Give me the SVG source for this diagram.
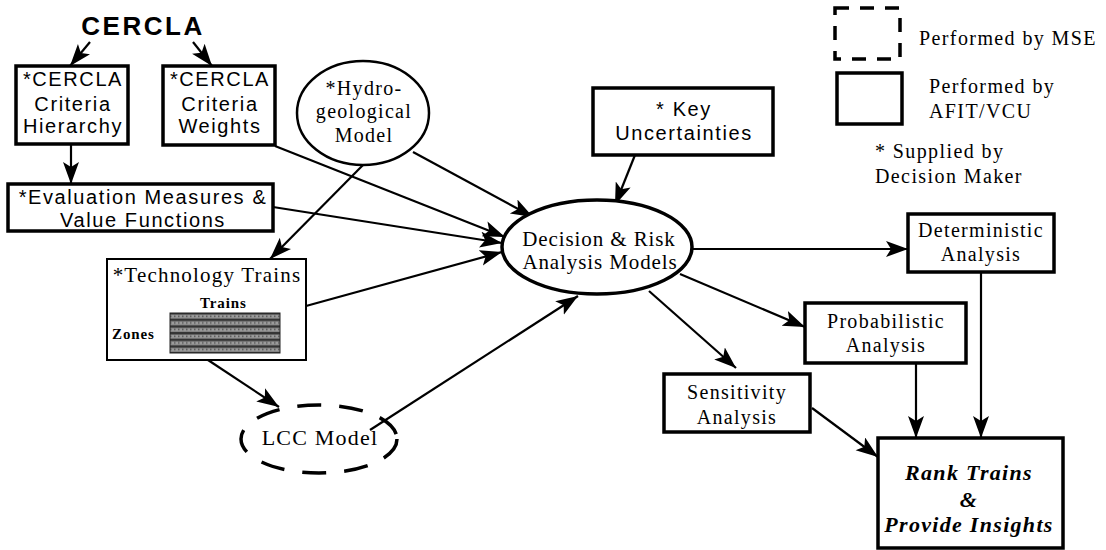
<svg xmlns="http://www.w3.org/2000/svg" width="1106" height="550" viewBox="0 0 1106 550">
<style>
.box{fill:#fff;stroke:#000;stroke-width:3.5}
.thin{fill:#fff;stroke:#000;stroke-width:2}
.ell{fill:#fff;stroke:#000;stroke-width:2.5}
.dash{fill:none;stroke:#000;stroke-width:3.5;stroke-dasharray:24,18}
.ln{stroke:#000;stroke-width:2.2;fill:none;marker-end:url(#ah)}
.sans{font-family:"Liberation Sans",Arial,sans-serif;font-size:20px;letter-spacing:1.6px;text-anchor:middle;fill:#000}
.serif{font-family:"Liberation Serif","Times New Roman",serif;font-size:20px;letter-spacing:1.3px;text-anchor:middle;fill:#000}
.leg{font-family:"Liberation Serif","Times New Roman",serif;font-size:20px;letter-spacing:1.4px;fill:#000}
.small{font-family:"Liberation Serif","Times New Roman",serif;font-size:15px;font-weight:bold;letter-spacing:0.9px;fill:#000}
.rank{font-family:"Liberation Serif","Times New Roman",serif;font-size:22px;font-weight:bold;font-style:italic;letter-spacing:1.3px;text-anchor:middle;fill:#000}
</style>
<defs>
<marker id="ah" markerUnits="userSpaceOnUse" markerWidth="24" markerHeight="18" refX="22" refY="8" orient="auto">
<path d="M0,0 L22,8 L0,16 L5,8 z" fill="#000"/>
</marker>
<pattern id="hatch" patternUnits="userSpaceOnUse" width="4" height="6.67" x="170" y="313">
<rect width="4" height="6.67" fill="#333"/>
<rect y="1.5" width="4" height="4" fill="#9a9a9a"/>
<rect x="0" y="2.5" width="1.5" height="1.5" fill="#555"/>
</pattern>
</defs>

<g id="connectors">
<line class="ln" x1="90" y1="42" x2="70" y2="66"/>
<line class="ln" x1="193" y1="42" x2="212" y2="66"/>
<line class="ln" x1="71" y1="144" x2="71" y2="184"/>
<line class="ln" x1="363" y1="165" x2="270" y2="259"/>
<line class="ln" x1="413" y1="152" x2="533" y2="217"/>
<line class="ln" x1="275" y1="146" x2="505" y2="237"/>
<line class="ln" x1="273" y1="207" x2="502" y2="243"/>
<line class="ln" x1="306" y1="306" x2="502" y2="252"/>
<line class="ln" x1="635" y1="155" x2="615" y2="205"/>
<line class="ln" x1="208" y1="360" x2="279" y2="407"/>
<line class="ln" x1="370" y1="430" x2="578" y2="296"/>
<line class="ln" x1="693" y1="249" x2="908" y2="249"/>
<line class="ln" x1="680" y1="274" x2="805" y2="327"/>
<line class="ln" x1="649" y1="291" x2="736" y2="368"/>
<line class="ln" x1="812" y1="408" x2="878" y2="457"/>
<line class="ln" x1="916" y1="363" x2="916" y2="438"/>
<line class="ln" x1="981" y1="272" x2="981" y2="438"/>
</g>

<g id="cercla">
<text x="143" y="35" style="font-family:'Liberation Sans',Arial,sans-serif;font-size:26px;font-weight:bold;letter-spacing:2.5px;text-anchor:middle">CERCLA</text>
</g>

<g id="hierarchy">
<rect class="box" x="16" y="66" width="112" height="78"/>
<text class="sans" x="73" y="86">*CERCLA</text>
<text class="sans" x="73" y="111">Criteria</text>
<text class="sans" x="73" y="133">Hierarchy</text>
</g>

<g id="weights">
<rect class="box" x="163" y="66" width="112" height="79"/>
<text class="sans" x="220" y="86">*CERCLA</text>
<text class="sans" x="220" y="111">Criteria</text>
<text class="sans" x="220" y="133">Weights</text>
</g>

<g id="evaluation">
<rect class="box" x="8" y="184" width="265" height="47"/>
<text class="sans" x="143" y="204">*Evaluation Measures &amp;</text>
<text class="sans" x="143" y="227">Value Functions</text>
</g>

<g id="hydro">
<ellipse class="ell" cx="363" cy="113" rx="66" ry="52"/>
<text class="serif" x="364" y="95">*Hydro-</text>
<text class="serif" x="364" y="118">geological</text>
<text class="serif" x="364" y="142">Model</text>
</g>

<g id="technology">
<rect class="thin" x="107" y="259" width="199" height="101"/>
<text class="serif" x="207" y="282" style="font-size:21px;letter-spacing:1.2px">*Technology Trains</text>
<text class="small" x="200" y="308">Trains</text>
<text class="small" x="112" y="339">Zones</text>
<rect x="170" y="313" width="110" height="40" fill="url(#hatch)" stroke="#222" stroke-width="1"/>
</g>

<g id="lcc">
<ellipse class="dash" cx="319" cy="439" rx="78" ry="34"/>
<text class="serif" x="320" y="445" style="font-size:22px;letter-spacing:1.2px">LCC Model</text>
</g>

<g id="key">
<rect class="box" x="593" y="88" width="180" height="67"/>
<text class="sans" x="684" y="116">* Key</text>
<text class="sans" x="684" y="140">Uncertainties</text>
</g>

<g id="decision">
<ellipse cx="597" cy="247" rx="95" ry="47" fill="#fff" stroke="#000" stroke-width="3.5"/>
<text class="serif" x="599" y="246" style="font-size:21px;letter-spacing:0.9px">Decision &amp; Risk</text>
<text class="serif" x="600" y="269" style="font-size:21px;letter-spacing:0.9px">Analysis Models</text>
</g>

<g id="deterministic">
<rect class="box" x="908" y="214" width="146" height="58"/>
<text class="serif" x="981" y="237">Deterministic</text>
<text class="serif" x="981" y="261">Analysis</text>
</g>

<g id="probabilistic">
<rect class="box" x="805" y="303" width="161" height="60"/>
<text class="serif" x="886" y="328">Probabilistic</text>
<text class="serif" x="886" y="352">Analysis</text>
</g>

<g id="sensitivity">
<rect class="box" x="664" y="374" width="146" height="58"/>
<text class="serif" x="737" y="399">Sensitivity</text>
<text class="serif" x="737" y="424">Analysis</text>
</g>

<g id="rank">
<rect class="box" x="878" y="438" width="185" height="110"/>
<text class="rank" x="969" y="480">Rank Trains</text>
<text class="rank" x="969" y="507">&amp;</text>
<text class="rank" x="969" y="532">Provide Insights</text>
</g>

<g id="legend">
<rect x="835" y="8" width="65" height="51" fill="none" stroke="#000" stroke-width="3.5" stroke-dasharray="14,11"/>
<text class="leg" x="919" y="45">Performed by MSE</text>
<rect class="box" x="837" y="73" width="65" height="51"/>
<text class="leg" x="929" y="93">Performed by</text>
<text class="leg" x="929" y="118">AFIT/VCU</text>
<text class="leg" x="875" y="158">*  Supplied by</text>
<text class="leg" x="875" y="183">Decision Maker</text>
</g>
</svg>
